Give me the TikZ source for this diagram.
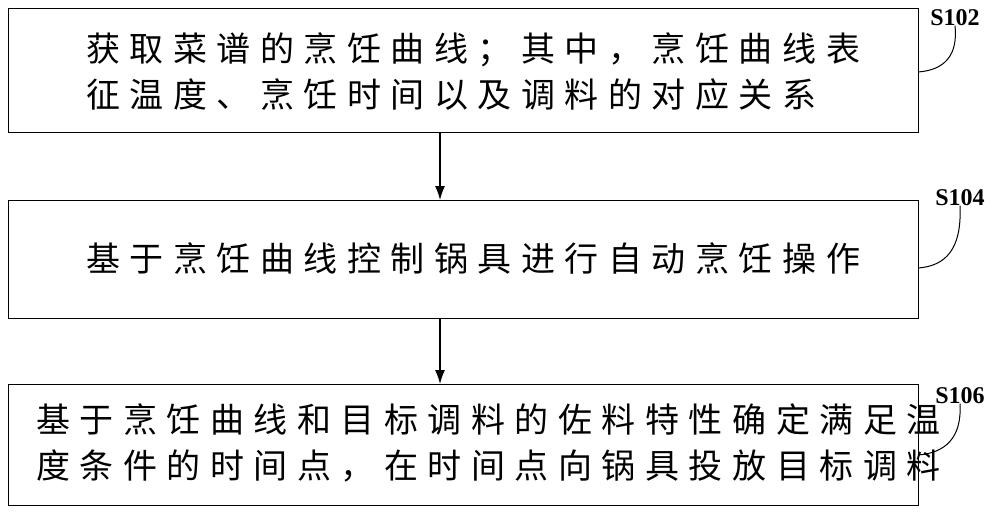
\documentclass[tikz,border=0pt]{standalone}
\usepackage{fontspec}
\usetikzlibrary{arrows.meta}
\newfontfamily\cjk[LetterSpace=28]{Noto Sans CJK SC}
\newfontfamily\lab{Liberation Serif}
\begin{document}
\begin{tikzpicture}[x=1pt,y=-1pt,
  stepbox/.style={draw,line width=1.2pt,minimum width=910pt,anchor=north west,inner sep=0pt},
  txt/.style={font=\cjk\fontsize{34}{46}\selectfont,align=left,anchor=west,inner sep=0pt},
  lbl/.style={font=\lab\bfseries\fontsize{24}{24}\selectfont},
  arr/.style={-{Latex[length=14pt,width=10pt]},line width=1.2pt}]
\useasboundingbox (0,0) rectangle (1000,512);
\node[stepbox,minimum height=124pt] (b1) at (8,8) {};
\node[stepbox,minimum height=118pt] (b2) at (8,200) {};
\node[stepbox,minimum height=121pt] (b3) at (8,384) {};
\node[txt] (t1) at (86,72) {获取菜谱的烹饪曲线；其中，烹饪曲线表\\征温度、烹饪时间以及调料的对应关系};
\node[txt] (t2) at (86,259) {基于烹饪曲线控制锅具进行自动烹饪操作};
\node[txt] (t3) at (36,443) {基于烹饪曲线和目标调料的佐料特性确定满足温\\度条件的时间点，在时间点向锅具投放目标调料};
\node[lbl] (l1) at (955,18) {S102};
\node[lbl] (l2) at (960,198) {S104};
\node[lbl] (l3) at (960,396) {S106};
\draw[arr] (b1.south-|440,0) -- (b2.north-|440,0);
\draw[arr] (b2.south-|440,0) -- (b3.north-|440,0);
\coordinate (c1) at (918,72);
\coordinate (c2) at (918,268);
\coordinate (c3) at (918,455);
\draw[line width=1pt] (c1) .. controls (945,70) and (958,55) .. ([yshift=4pt]l1.south);
\draw[line width=1pt] (c2) .. controls (945,266) and (962,250) .. ([yshift=4pt]l2.south);
\draw[line width=1pt] (c3) .. controls (945,453) and (962,438) .. ([yshift=4pt]l3.south);
\end{tikzpicture}
\end{document}
